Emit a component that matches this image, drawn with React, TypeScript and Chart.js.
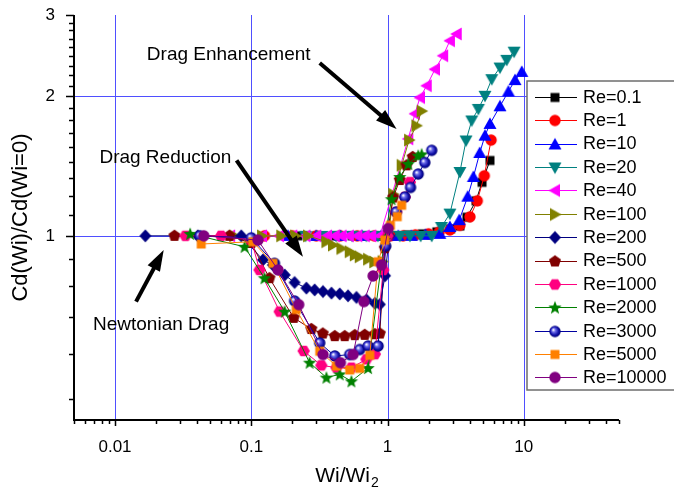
import React, { useEffect, useRef } from "react";
import { Chart, registerables } from "chart.js";

Chart.register(...registerables);

const FONT = '"Liberation Sans", Arial, Helvetica, sans-serif';

// ---------- series ----------
const seriesNames = ["Re=0.1", "Re=1", "Re=10", "Re=20", "Re=40", "Re=100", "Re=200", "Re=500", "Re=1000", "Re=2000", "Re=3000", "Re=5000", "Re=10000"];
const seriesColors = ["#000000", "#ff0000", "#0000ff", "#008080", "#ff00ff", "#808000", "#000080", "#800000", "#ff0080", "#008000", "#0000a0", "#ff8000", "#800080"];
const seriesShapes = ["square", "circle", "triUp", "triDown", "triLeft", "triRight", "diamond", "pentagon", "hexagon", "star", "sphere", "square", "circle"];

const re01X = [0.22, 0.3, 0.4, 0.55, 0.7, 0.9, 1.1, 1.4, 1.8, 2.3, 2.9, 3.4, 3.83, 4.46, 4.94, 5.65];
const re01Y = [1.0, 1.0, 1.0, 1.0, 1.0, 1.0, 1.0, 1.005, 1.01, 1.02, 1.035, 1.05, 1.097, 1.19, 1.305, 1.455];

const re1X = [0.125, 0.2, 0.3, 0.45, 0.6, 0.8, 1.05, 1.3, 1.6, 2.0, 2.4, 2.87, 3.4, 4.03, 4.56, 5.13, 5.76];
const re1Y = [1.0, 1.0, 1.0, 1.0, 1.0, 1.0, 1.0, 1.0, 1.005, 1.01, 1.02, 1.03, 1.054, 1.099, 1.19, 1.348, 1.61];

const re10X = [0.186, 0.3, 0.45, 0.65, 0.9, 1.2, 1.5, 1.9, 2.42, 2.87, 3.36, 3.88, 4.27, 4.75, 5.19, 5.65, 6.69, 7.71, 8.63, 9.67];
const re10Y = [1.0, 1.0, 1.0, 1.0, 1.0, 1.0, 1.0, 1.005, 1.01, 1.045, 1.081, 1.215, 1.34, 1.51, 1.646, 1.745, 1.905, 2.05, 2.17, 2.26];

const re20X = [0.25, 0.33, 0.42, 0.55, 0.7, 0.85, 1.0, 1.23, 1.46, 1.75, 2.11, 2.49, 2.87, 3.4, 3.77, 4.15, 4.64, 5.19, 5.82, 6.69, 7.5, 8.49];
const re20Y = [1.0, 1.0, 1.0, 1.0, 1.0, 1.0, 1.0, 1.0, 1.0, 1.0, 1.0, 1.045, 1.117, 1.374, 1.607, 1.775, 1.88, 2.007, 2.18, 2.31, 2.4, 2.5];

const re40X = [0.07, 0.12, 0.16, 0.2, 0.25, 0.3, 0.36, 0.41, 0.46, 0.52, 0.6, 0.68, 0.76, 0.88, 1.42, 1.59, 1.73, 1.94, 2.23, 2.56, 2.87, 3.22];
const re40Y = [1.0, 1.0, 1.0, 1.0, 1.0, 1.0, 1.0, 1.0, 1.0, 1.0, 1.0, 1.0, 1.0, 1.0, 1.62, 1.836, 1.99, 2.11, 2.29, 2.45, 2.64, 2.73];

const re100X = [0.075, 0.12, 0.166, 0.21, 0.261, 0.356, 0.398, 0.459, 0.528, 0.575, 0.625, 0.72, 0.8, 0.92, 1.02, 1.1, 1.27, 1.44, 1.63, 1.78];
const re100Y = [1.0, 1.0, 1.0, 1.0, 1.0, 0.971, 0.955, 0.939, 0.924, 0.909, 0.901, 0.89, 0.878, 0.88, 1.0, 1.23, 1.42, 1.61, 1.73, 1.86];

const re200X = [0.0167, 0.0405, 0.0845, 0.1217, 0.144, 0.176, 0.208, 0.254, 0.292, 0.336, 0.388, 0.446, 0.513, 0.592, 0.701, 0.807, 0.878, 0.96, 1.03];
const re200Y = [1.0, 1.0, 1.0, 0.887, 0.865, 0.823, 0.793, 0.771, 0.764, 0.758, 0.752, 0.749, 0.742, 0.736, 0.727, 0.715, 0.711, 0.82, 1.0];

const re500X = [0.0273, 0.069, 0.1, 0.136, 0.205, 0.276, 0.335, 0.41, 0.485, 0.575, 0.68, 0.807, 0.878, 0.955, 1.1, 1.23, 1.38, 1.53];
const re500Y = [1.0, 1.0, 0.965, 0.81, 0.665, 0.629, 0.615, 0.607, 0.607, 0.61, 0.611, 0.613, 0.615, 0.94, 1.21, 1.32, 1.42, 1.48];

const re1000X = [0.0329, 0.06, 0.1, 0.115, 0.1615, 0.2425, 0.327, 0.422, 0.543, 0.7, 0.807, 0.93, 1.0, 1.16, 1.34, 1.46];
const re1000Y = [1.0, 1.0, 0.98, 0.844, 0.686, 0.564, 0.525, 0.519, 0.519, 0.541, 0.555, 0.844, 1.0, 1.126, 1.213, 1.306];

const re2000X = [0.0356, 0.0893, 0.125, 0.176, 0.268, 0.356, 0.446, 0.543, 0.72, 0.95, 1.07, 1.23, 1.42, 1.68, 1.78];
const re2000Y = [1.01, 0.947, 0.81, 0.686, 0.532, 0.494, 0.502, 0.485, 0.518, 0.98, 1.2, 1.34, 1.43, 1.49, 1.5];

const re3000X = [0.042, 0.1, 0.148, 0.208, 0.318, 0.41, 0.528, 0.625, 0.72, 0.853, 0.97, 1.16, 1.34, 1.476, 1.68, 1.88, 2.11];
const re3000Y = [1.0, 0.99, 0.872, 0.723, 0.587, 0.55, 0.554, 0.568, 0.578, 0.578, 0.95, 1.126, 1.213, 1.272, 1.36, 1.44, 1.53];

const re5000X = [0.0429, 0.1027, 0.144, 0.214, 0.318, 0.422, 0.528, 0.625, 0.741, 0.853, 0.955, 1.05, 1.18, 1.27];
const re5000Y = [0.96, 0.971, 0.872, 0.693, 0.563, 0.523, 0.513, 0.517, 0.552, 0.879, 0.979, 1.054, 1.1, 1.164];

const re10000X = [0.0448, 0.112, 0.157, 0.223, 0.336, 0.451, 0.559, 0.67, 0.784, 0.904, 1.01];
const re10000Y = [1.0, 0.979, 0.844, 0.71, 0.554, 0.532, 0.554, 0.721, 0.819, 0.865, 1.037];

const seriesX = [re01X, re1X, re10X, re20X, re40X, re100X, re200X, re500X, re1000X, re2000X, re3000X, re5000X, re10000X];
const seriesY = [re01Y, re1Y, re10Y, re20Y, re40Y, re100Y, re200Y, re500Y, re1000Y, re2000Y, re3000Y, re5000Y, re10000Y];

// ---------- ticks ----------
const xMajorTicks = [0.01, 0.1, 1, 10];
const xTickLabels = ["0.01", "0.1", "1", "10"];
const xMinorTicks = [0.005, 0.006, 0.007, 0.008, 0.009, 0.02, 0.03, 0.04, 0.05, 0.06, 0.07, 0.08, 0.09, 0.2, 0.3, 0.4, 0.5, 0.6, 0.7, 0.8, 0.9, 2, 3, 4, 5, 6, 7, 8, 9, 20, 30, 40, 50];
const xGridValues = [0.01, 0.1, 1, 10];

const yMajorTicks = [1, 2, 3];
const yTickLabels = ["1", "2", "3"];
const yMinorTicks = [0.444, 0.556, 0.667, 0.778, 0.889, 1.111, 1.222, 1.333, 1.444, 1.556, 1.667, 1.778, 1.889, 2.111, 2.222, 2.333, 2.444, 2.556, 2.667, 2.778, 2.889];
const yGridValues = [1, 2];

// ---------- annotations (data coordinates) ----------
const noteTexts = ["Drag Enhancement", "Drag Reduction", "Newtonian Drag"];
const noteX = [0.0683, 0.02344, 0.0218];
const noteY = [2.465, 1.476, 0.641];
const arrowFromX = [0.318, 0.078, 0.01427];
const arrowFromY = [2.363, 1.455, 0.721];
const arrowToX = [1.165, 0.2395, 0.02277];
const arrowToY = [1.702, 0.901, 0.932];

const xTitle = "Wi/Wi";
const xTitleSub = "2";
const yTitle = "Cd(Wi)/Cd(Wi=0)";

const GRID_COLOR = "#4f4fff";

function makeMarker(shape: string, color: string): HTMLCanvasElement {
  const S = 16;
  const c = document.createElement("canvas");
  c.width = S;
  c.height = S;
  const g = c.getContext("2d")!;
  const cx = S / 2;
  const cy = S / 2;
  g.fillStyle = color;
  g.beginPath();
  const poly = (pts: number[][]) => {
    g.moveTo(pts[0][0], pts[0][1]);
    for (let i = 1; i < pts.length; i++) g.lineTo(pts[i][0], pts[i][1]);
    g.closePath();
  };
  const regular = (n: number, r: number, start: number) => {
    const pts: number[][] = [];
    for (let i = 0; i < n; i++) {
      const a = start + (i * 2 * Math.PI) / n;
      pts.push([cx + r * Math.cos(a), cy + r * Math.sin(a)]);
    }
    poly(pts);
  };
  switch (shape) {
    case "square":
      g.rect(cx - 4.5, cy - 4.5, 9, 9);
      break;
    case "circle":
      g.arc(cx, cy, 5.7, 0, Math.PI * 2);
      break;
    case "triUp":
      poly([[cx, cy - 6.5], [cx + 6.5, cy + 5], [cx - 6.5, cy + 5]]);
      break;
    case "triDown":
      poly([[cx, cy + 6.5], [cx + 6.5, cy - 5], [cx - 6.5, cy - 5]]);
      break;
    case "triLeft":
      poly([[cx - 6.5, cy], [cx + 5, cy - 6.5], [cx + 5, cy + 6.5]]);
      break;
    case "triRight":
      poly([[cx + 6.5, cy], [cx - 5, cy - 6.5], [cx - 5, cy + 6.5]]);
      break;
    case "diamond":
      poly([[cx, cy - 6.5], [cx + 6, cy], [cx, cy + 6.5], [cx - 6, cy]]);
      break;
    case "pentagon":
      regular(5, 6.3, -Math.PI / 2);
      break;
    case "hexagon":
      regular(6, 6.2, 0);
      break;
    case "star": {
      const pts: number[][] = [];
      for (let i = 0; i < 10; i++) {
        const r = i % 2 === 0 ? 7 : 3;
        const a = -Math.PI / 2 + (i * Math.PI) / 5;
        pts.push([cx + r * Math.cos(a), cy + 0.5 + r * Math.sin(a)]);
      }
      poly(pts);
      break;
    }
    case "sphere": {
      const grad = g.createRadialGradient(cx - 1.8, cy - 1.8, 0.3, cx, cy, 5.8);
      grad.addColorStop(0, "#ffffff");
      grad.addColorStop(0.3, "#6a6ae8");
      grad.addColorStop(0.7, "#1010a8");
      grad.addColorStop(1, "#000070");
      g.fillStyle = grad;
      g.arc(cx, cy, 5.7, 0, Math.PI * 2);
      break;
    }
  }
  g.fill();
  return c;
}

const frameArea = { left: 74, top: 15, right: 619, bottom: 420 };

const decorPlugin = {
  id: "decor",
  beforeDatasetsDraw(chart: any) {
    const ctx = chart.ctx as CanvasRenderingContext2D;
    const xs = chart.scales.x;
    const ys = chart.scales.y;
    const ca = chart.chartArea;
    ctx.save();
    ctx.strokeStyle = GRID_COLOR;
    ctx.lineWidth = 1;
    ctx.beginPath();
    for (const v of xGridValues) {
      const px = Math.round(xs.getPixelForValue(v)) + 0.5;
      ctx.moveTo(px, ca.top);
      ctx.lineTo(px, ca.bottom);
    }
    for (const v of yGridValues) {
      const py = Math.round(ys.getPixelForValue(v)) + 0.5;
      ctx.moveTo(ca.left, py);
      ctx.lineTo(ca.right, py);
    }
    ctx.stroke();
    ctx.restore();
  },
  afterDatasetsDraw(chart: any) {
    const ctx = chart.ctx as CanvasRenderingContext2D;
    const xs = chart.scales.x;
    const ys = chart.scales.y;
    ctx.save();
    // arrows
    for (let i = 0; i < arrowFromX.length; i++) {
      const x0 = xs.getPixelForValue(arrowFromX[i]);
      const y0 = ys.getPixelForValue(arrowFromY[i]);
      const x1 = xs.getPixelForValue(arrowToX[i]);
      const y1 = ys.getPixelForValue(arrowToY[i]);
      const ang = Math.atan2(y1 - y0, x1 - x0);
      const L = 21;
      const W = 7;
      const bx = x1 - L * Math.cos(ang);
      const by = y1 - L * Math.sin(ang);
      ctx.strokeStyle = "#000";
      ctx.lineWidth = 4;
      ctx.lineCap = "butt";
      ctx.beginPath();
      ctx.moveTo(x0, y0);
      ctx.lineTo(bx + 2 * Math.cos(ang), by + 2 * Math.sin(ang));
      ctx.stroke();
      ctx.fillStyle = "#000";
      ctx.beginPath();
      ctx.moveTo(x1, y1);
      ctx.lineTo(bx + W * Math.sin(ang), by - W * Math.cos(ang));
      ctx.lineTo(bx - W * Math.sin(ang), by + W * Math.cos(ang));
      ctx.closePath();
      ctx.fill();
    }
    // notes
    ctx.fillStyle = "#000";
    ctx.font = `19px ${FONT}`;
    ctx.textAlign = "center";
    ctx.textBaseline = "middle";
    for (let i = 0; i < noteTexts.length; i++) {
      ctx.fillText(noteTexts[i], xs.getPixelForValue(noteX[i]), ys.getPixelForValue(noteY[i]));
    }
    ctx.restore();
  },
  afterDraw(chart: any) {
    const ctx = chart.ctx as CanvasRenderingContext2D;
    const xs = chart.scales.x;
    const ys = chart.scales.y;
    const ca = chart.chartArea;
    ctx.save();
    // axes lines
    ctx.strokeStyle = "#000";
    ctx.lineWidth = 2;
    ctx.beginPath();
    ctx.moveTo(ca.left, ca.top);
    ctx.lineTo(ca.left, ca.bottom);
    ctx.lineTo(ca.right, ca.bottom);
    ctx.stroke();
    // ticks
    ctx.lineWidth = 1.5;
    ctx.beginPath();
    for (const v of xMajorTicks) {
      const px = Math.round(xs.getPixelForValue(v)) + 0.5;
      ctx.moveTo(px, ca.bottom);
      ctx.lineTo(px, ca.bottom + 6);
    }
    for (const v of xMinorTicks) {
      const px = Math.round(xs.getPixelForValue(v)) + 0.5;
      ctx.moveTo(px, ca.bottom);
      ctx.lineTo(px, ca.bottom + 4);
    }
    for (const v of yMajorTicks) {
      const py = Math.round(ys.getPixelForValue(v)) + 0.5;
      ctx.moveTo(ca.left, py);
      ctx.lineTo(ca.left - 8, py);
    }
    for (const v of yMinorTicks) {
      const py = Math.round(ys.getPixelForValue(v)) + 0.5;
      ctx.moveTo(ca.left, py);
      ctx.lineTo(ca.left - 5, py);
    }
    ctx.stroke();

    // axis titles
    ctx.fillStyle = "#000";
    ctx.font = `21px ${FONT}`;
    const mainW = ctx.measureText(xTitle).width;
    ctx.font = `14px ${FONT}`;
    const subW = ctx.measureText(xTitleSub).width;
    const cx = (ca.left + ca.right) / 2;
    const startX = cx - (mainW + subW) / 2;
    ctx.textAlign = "left";
    ctx.textBaseline = "alphabetic";
    ctx.font = `21px ${FONT}`;
    ctx.fillText(xTitle, startX, 482);
    ctx.font = `14px ${FONT}`;
    ctx.fillText(xTitleSub, startX + mainW + 1, 487);

    ctx.save();
    ctx.translate(21, (ca.top + ca.bottom) / 2);
    ctx.rotate(-Math.PI / 2);
    ctx.font = `22px ${FONT}`;
    ctx.textAlign = "center";
    ctx.textBaseline = "middle";
    ctx.fillText(yTitle, 0, 0);
    ctx.restore();

    // legend box
    const lg = { left: 527, top: 81, right: 690, bottom: 390, firstRow: 96.7, rowGap: 23.4, lineX0: 535, lineX1: 577, markX: 555, textX: 583 };
    ctx.fillStyle = "#ffffff";
    ctx.fillRect(lg.left, lg.top, lg.right - lg.left, lg.bottom - lg.top);
    ctx.strokeStyle = "#6e6e6e";
    ctx.lineWidth = 1.5;
    ctx.strokeRect(lg.left, lg.top, lg.right - lg.left, lg.bottom - lg.top);
    ctx.font = `18px ${FONT}`;
    ctx.textAlign = "left";
    ctx.textBaseline = "middle";
    chart.data.datasets.forEach((ds: any, i: number) => {
      const y = lg.firstRow + i * lg.rowGap;
      ctx.strokeStyle = ds.borderColor;
      ctx.lineWidth = 1;
      ctx.beginPath();
      ctx.moveTo(lg.lineX0, Math.round(y) + 0.5);
      ctx.lineTo(lg.lineX1, Math.round(y) + 0.5);
      ctx.stroke();
      ctx.drawImage(ds.pointStyle, lg.markX - 8, Math.round(y) - 8 + 0.5);
      ctx.fillStyle = "#000";
      ctx.fillText(ds.label, lg.textX, y + 1);
    });
    ctx.restore();
  },
};

export default function App() {
  const ref = useRef<HTMLCanvasElement | null>(null);
  useEffect(() => {
    if (!ref.current) return;
    const datasets = seriesNames.map((name, i) => ({
      label: name,
      data: seriesX[i].map((x, j) => ({ x, y: seriesY[i][j] })),
      borderColor: seriesColors[i],
      backgroundColor: seriesColors[i],
      borderWidth: 1,
      pointStyle: makeMarker(seriesShapes[i], seriesColors[i]),
      pointRadius: 6,
      showLine: true,
      fill: false,
      tension: 0,
      order: seriesNames.length - i,
    }));
    const chart = new Chart(ref.current, {
      type: "scatter",
      data: { datasets },
      options: {
        animation: false,
        responsive: false,
        maintainAspectRatio: false,
        layout: { padding: { top: frameArea.top, right: 674 - frameArea.right, left: 0, bottom: 0 } },
        plugins: {
          legend: { display: false },
          tooltip: { enabled: false },
          title: { display: false },
        },
        scales: {
          x: {
            type: "logarithmic",
            min: 0.005,
            max: 50,
            afterBuildTicks: (scale: any) => {
              scale.ticks = [...xMinorTicks, ...xMajorTicks].sort((a, b) => a - b).map((v) => ({ value: v }));
            },
            afterFit: (scale: any) => {
              scale.height = 493 - frameArea.bottom;
              scale.paddingLeft = 0;
              scale.paddingRight = 0;
            },
            grid: { display: false, drawTicks: false },
            border: { display: false },
            ticks: {
              autoSkip: false,
              maxRotation: 0,
              minRotation: 0,
              padding: 17,
              color: "#000",
              font: { family: FONT, size: 17 },
              callback: (v: any) => {
                const k = xMajorTicks.indexOf(Number(v));
                return k >= 0 ? xTickLabels[k] : "";
              },
            },
          },
          y: {
            type: "logarithmic",
            min: 0.4,
            max: 3,
            afterBuildTicks: (scale: any) => {
              scale.ticks = [...yMinorTicks, ...yMajorTicks].sort((a, b) => a - b).map((v) => ({ value: v }));
            },
            afterFit: (scale: any) => {
              scale.width = frameArea.left;
              scale.paddingTop = 0;
              scale.paddingBottom = 0;
            },
            grid: { display: false, drawTicks: false },
            border: { display: false },
            ticks: {
              autoSkip: false,
              padding: 19,
              color: "#000",
              font: { family: FONT, size: 17 },
              callback: (v: any) => {
                const k = yMajorTicks.indexOf(Number(v));
                return k >= 0 ? yTickLabels[k] : "";
              },
            },
          },
        },
      },
      plugins: [decorPlugin],
    } as any);
    return () => chart.destroy();
  }, []);
  return (
    <div style={{ position: "fixed", left: 0, top: 0, width: 674, height: 493, background: "#fff" }}>
      <canvas ref={ref} width={674} height={493} style={{ display: "block" }} />
    </div>
  );
}
